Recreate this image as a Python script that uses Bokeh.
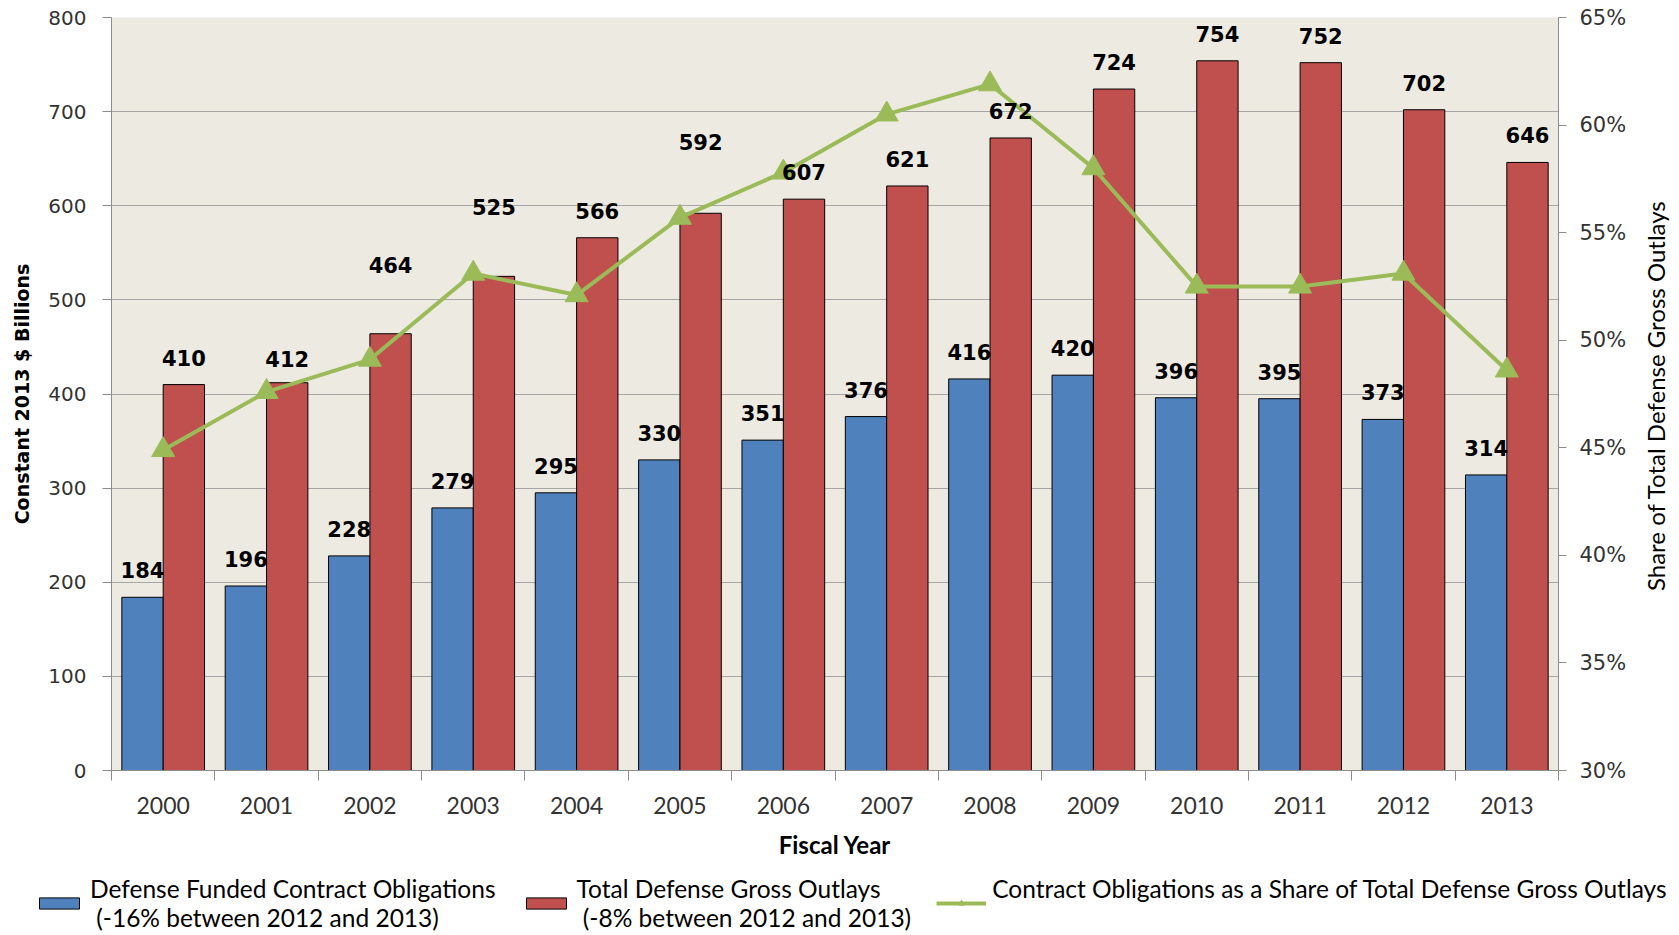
import math
from bokeh.plotting import figure
from bokeh.models import (ColumnDataSource, Range1d, LinearAxis, SingleIntervalTicker, FixedTicker,
                          PrintfTickFormatter, LabelSet, Legend, LegendItem)
from bokeh.transform import dodge
from bokeh.layouts import column, row
from bokeh.embed import file_html
from bokeh.resources import INLINE
from bokeh.core.properties import value

# ---------------- data ----------------
years = [2000, 2001, 2002, 2003, 2004, 2005, 2006, 2007, 2008, 2009, 2010, 2011, 2012, 2013]
contract_obligations = [184, 196, 228, 279, 295, 330, 351, 376, 416, 420, 396, 395, 373, 314]
gross_outlays = [410, 412, 464, 525, 566, 592, 607, 621, 672, 724, 754, 752, 702, 646]
share_pct = [44.9, 47.6, 49.1, 53.1, 52.1, 55.7, 57.8, 60.5, 61.9, 58.0, 52.5, 52.5, 53.1, 48.6]

series_names = [
    "Defense Funded Contract Obligations\n (-16% between 2012 and 2013)",
    "Total Defense Gross Outlays\n (-8% between 2012 and 2013)",
    "Contract Obligations as a Share of Total Defense Gross Outlays\n ",
]
right_title = "Share of Total Defense  Gross Outlays"

# ---------------- layout / style ----------------
BLUE = "#4F81BD"
RED = "#C0504D"
GREEN = "#9BBB59"
BG = "#EDEAE1"
GRID = "#A6A6A6"
AXIS = "#8C8C8C"
TXT = "#333333"

blue_label_offset = [27] * len(years)
red_label_offset = [27, 24, 69, 69, 27, 71, 27, 27, 27, 27, 27, 27, 27, 27]

src = ColumnDataSource(dict(
    year=years,
    contract=contract_obligations,
    outlays=gross_outlays,
    share=share_pct,
    contract_txt=[str(v) for v in contract_obligations],
    outlays_txt=[str(v) for v in gross_outlays],
    boff=blue_label_offset,
    roff=red_label_offset,
))

W = 1679
W_TITLE = 40
W_MAIN = W - W_TITLE
H_MAIN = 866
H_LEG = 935 - H_MAIN
FRAME_TOP, FRAME_BOTTOM, FRAME_LEFT, FRAME_RIGHT = 17, 770, 111, 1558

p = figure(width=W_MAIN, height=H_MAIN, output_backend="svg", toolbar_location=None,
           x_range=Range1d(years[0] - 0.5, years[-1] + 0.5), y_range=Range1d(0, 800),
           min_border_left=FRAME_LEFT, min_border_right=W_MAIN - FRAME_RIGHT,
           min_border_top=FRAME_TOP, min_border_bottom=H_MAIN - FRAME_BOTTOM)
p.frame_align = False
p.background_fill_color = BG
p.border_fill_color = "white"
p.outline_line_color = None
p.extra_y_ranges = {"pct": Range1d(30, 65)}

# bars
p.vbar(x=dodge("year", -0.2), top="contract", width=0.4, source=src,
       fill_color=BLUE, line_color="black", line_width=1)
p.vbar(x=dodge("year", 0.2), top="outlays", width=0.4, source=src,
       fill_color=RED, line_color="black", line_width=1)

# labels
p.add_layout(LabelSet(x=dodge("year", -0.2), y="contract", text="contract_txt", source=src,
                      y_offset="boff", text_align="center", text_baseline="middle",
                      text_font=value("DejaVu Sans"), text_font_style="bold",
                      text_font_size="21px", text_color="black"))
p.add_layout(LabelSet(x=dodge("year", 0.2), y="outlays", text="outlays_txt", source=src,
                      y_offset="roff", text_align="center", text_baseline="middle",
                      text_font=value("DejaVu Sans"), text_font_style="bold",
                      text_font_size="21px", text_color="black"))

# share line
p.line("year", "share", source=src, y_range_name="pct", line_color=GREEN, line_width=4)
p.scatter("year", "share", source=src, y_range_name="pct", marker="triangle", size=23,
          fill_color=GREEN, line_color=GREEN)

# grid
p.xgrid.visible = False
p.ygrid.grid_line_color = GRID
p.ygrid.grid_line_width = 1
p.ygrid.ticker = SingleIntervalTicker(interval=100)

# left axis
ya = p.yaxis[0]
ya.ticker = SingleIntervalTicker(interval=100)
ya.minor_tick_line_color = None
ya.axis_line_color = AXIS
ya.major_tick_line_color = AXIS
ya.major_tick_out = 9
ya.major_tick_in = 0
ya.major_label_standoff = 16
ya.major_label_text_font = "DejaVu Sans"
ya.major_label_text_font_size = "20px"
ya.major_label_text_color = TXT
ya.axis_label = "Constant 2013 $ Billions"
ya.axis_label_text_font = "DejaVu Sans"
ya.axis_label_text_font_style = "bold"
ya.axis_label_text_font_size = "19px"
ya.axis_label_text_color = "black"
ya.axis_label_standoff = 12

# right axis
ra = LinearAxis(y_range_name="pct", ticker=SingleIntervalTicker(interval=5),
                formatter=PrintfTickFormatter(format="%d%%"))
ra.minor_tick_line_color = None
ra.axis_line_color = AXIS
ra.major_tick_line_color = AXIS
ra.major_tick_out = 8
ra.major_tick_in = 0
ra.major_label_standoff = 13
ra.major_label_text_font = "DejaVu Sans"
ra.major_label_text_font_size = "21px"
ra.major_label_text_color = TXT
p.add_layout(ra, "right")

# bottom axis
xa = p.xaxis[0]
xa.ticker = FixedTicker(ticks=years, minor_ticks=[y + 0.5 for y in [years[0] - 1] + years])
xa.major_label_overrides = {y: str(y) for y in years}
xa.major_tick_line_color = None
xa.minor_tick_line_color = AXIS
xa.minor_tick_out = 10
xa.minor_tick_in = 0
xa.axis_line_color = AXIS
xa.major_label_standoff = 16
xa.major_label_text_font = "Lato"
xa.major_label_text_font_size = "23px"
xa.major_label_text_color = TXT
xa.axis_label = "Fiscal Year"
xa.axis_label_text_font = "Lato"
xa.axis_label_text_font_style = "bold"
xa.axis_label_text_font_size = "24px"
xa.axis_label_text_color = "black"
xa.axis_label_standoff = 13

# ---------------- right-axis title strip (reads bottom-to-top) ----------------
tfig = figure(width=W_TITLE, height=H_MAIN, output_backend="svg", toolbar_location=None,
              x_range=Range1d(0, W_TITLE), y_range=Range1d(0, H_MAIN),
              x_axis_location=None, y_axis_location=None,
              min_border_left=0, min_border_right=0, min_border_top=0, min_border_bottom=0)
tfig.frame_align = False
tfig.outline_line_color = None
tfig.grid.visible = False
tfig.text(x=[1655 - W_MAIN], y=[H_MAIN - 392], text=[right_title], angle=math.pi / 2,
          text_align="center", text_baseline="middle",
          text_font=value("Lato"), text_font_size="24px", text_color="black")

# ---------------- legend strip ----------------
leg = figure(width=W, height=H_LEG, output_backend="svg", toolbar_location=None,
             x_range=Range1d(0, 1), y_range=Range1d(0, 1),
             x_axis_location=None, y_axis_location=None,
             min_border_left=34, min_border_right=0, min_border_top=8, min_border_bottom=0)
leg.frame_align = False
leg.outline_line_color = None
leg.grid.visible = False
dummy = ColumnDataSource(dict(x=[-10, -9], y=[-10, -9]))
rb = leg.vbar(x="x", top="y", width=0.4, source=dummy, fill_color=BLUE, line_color="black")
rr = leg.vbar(x="x", top="y", width=0.4, source=dummy, fill_color=RED, line_color="black")
rl = leg.line("x", "y", source=dummy, line_color=GREEN, line_width=4)
rs = leg.scatter("x", "y", source=dummy, marker="triangle", size=18, fill_color=GREEN, line_color=GREEN)
legend = Legend(items=[LegendItem(label=series_names[0], renderers=[rb]),
                       LegendItem(label=series_names[1], renderers=[rr]),
                       LegendItem(label=series_names[2], renderers=[rl, rs])],
                location="top_left", orientation="horizontal",
                glyph_width=50, glyph_height=14, label_standoff=6, spacing=25,
                padding=0, margin=0, border_line_color=None, background_fill_alpha=0,
                label_text_font="Lato", label_text_font_size="24.5px",
                label_text_color="black", label_text_line_height=1.2)
leg.add_layout(legend)

layout = column(row(p, tfig, spacing=0), leg, spacing=0)
open("out.html", "w").write(file_html(layout, INLINE))
